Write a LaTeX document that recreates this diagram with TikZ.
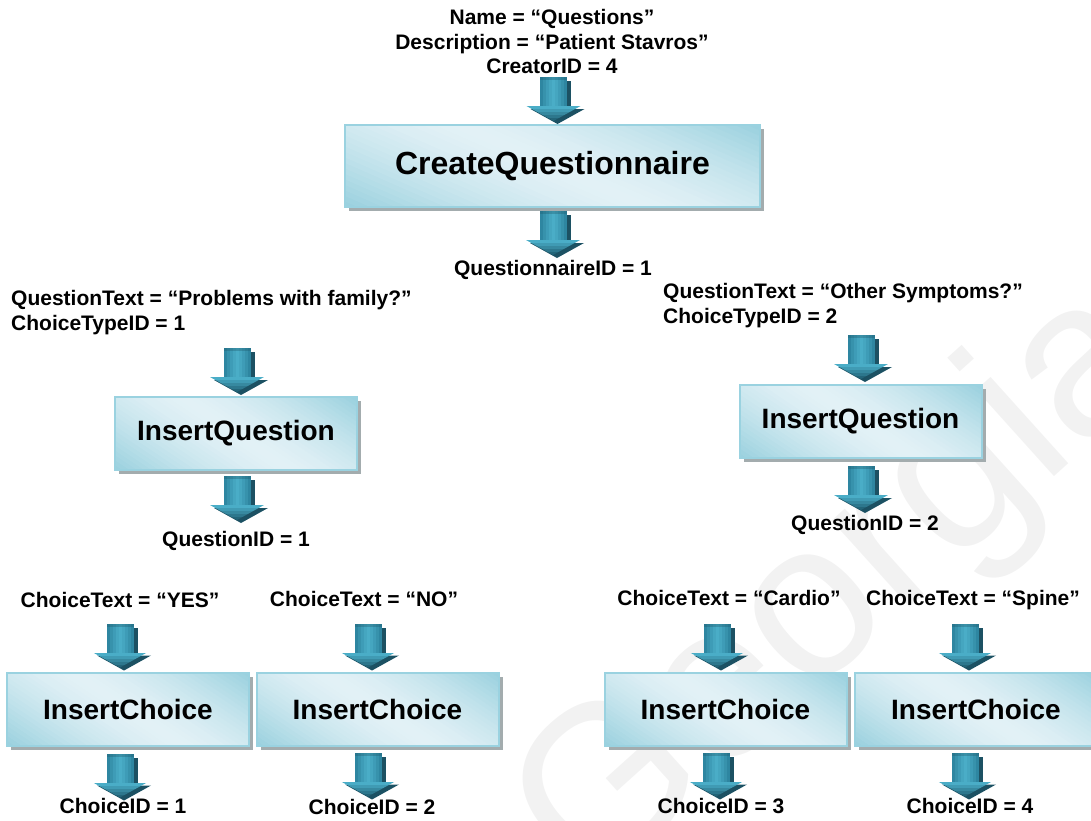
\documentclass[tikz,border=0pt]{standalone}
\usepackage{fontspec}
\setmainfont{Liberation Sans}
\usetikzlibrary{calc,shadows}

\definecolor{boxlight}{HTML}{E2F1F6}
\definecolor{boxdark}{HTML}{98D0DE}
\definecolor{boxedge}{HTML}{9AD2E0}
\definecolor{boxshadow}{HTML}{A3ACAE}
\definecolor{arrowmid}{HTML}{4AADC7}
\definecolor{arrowside}{HTML}{2A809B}
\definecolor{arrowtip}{HTML}{236579}
\definecolor{arrowshade}{HTML}{1C5163}
\definecolor{marklight}{HTML}{F2F2F2}

\tikzset{
  x=1pt, y=-1pt,
  lbl/.style={font=\bfseries\fontsize{21}{24.5}\selectfont, inner sep=0pt, anchor=base},
  % diagonal sheen inside a box, built from slanted strips
  sheen/.style={path picture={
    \foreach \i in {0,...,47}{
      \pgfmathsetmacro\fa{-0.45+\i*1.45/48}
      \pgfmathsetmacro\fb{\fa+1.45/48+0.004}
      \pgfmathtruncatemacro\pp{100*abs(((\i+0.5)/48)*2-1)^1.5}
      \fill[boxdark!\pp!boxlight]
        ($(path picture bounding box.north west)!\fa!(path picture bounding box.north east)$)
        -- ($(path picture bounding box.north west)!\fb!(path picture bounding box.north east)$)
        -- ($(path picture bounding box.south west)!{\fb+0.45}!(path picture bounding box.south east)$)
        -- ($(path picture bounding box.south west)!{\fa+0.45}!(path picture bounding box.south east)$)
        -- cycle;
    }
  }},
  procbox/.style={draw=boxedge, line width=2pt, outer sep=0pt, inner sep=0pt,
    fill=boxlight, sheen,
    drop shadow={shadow xshift=4pt, shadow yshift=-4pt, fill=boxshadow, opacity=1},
    minimum width=242pt, minimum height=73pt,
    font=\bfseries\fontsize{28}{28}\selectfont},
  % block arrow, origin at its tip, pointing down
  blockarrow/.pic={
    \fill[arrowshade] (13.5,-40) rectangle (17.5,-14);
    \fill[arrowshade] (-23,-12) -- (31,-12) -- (4,3) -- cycle;
    \fill[arrowside] (-13.5,-44) rectangle (13.5,-14);
    \foreach \k in {0,...,8}{
      \pgfmathtruncatemacro\pp{100*abs(((\k+0.5)/9)*2-1)^1.2}
      \fill[arrowside!\pp!arrowmid] ({-13.5+3*\k},-44) rectangle ({-13.5+3*\k+3},-14);
    }
    \fill[arrowside!70!black, opacity=0.35] (-13.5,-44) rectangle (13.5,-41);
    \begin{scope}
      \clip (-27,-15) -- (27,-15) -- (0,0) -- cycle;
      \foreach \k in {0,...,4}{
        \pgfmathtruncatemacro\pp{100*(\k/4)}
        \fill[arrowtip!\pp!arrowmid] (-28,{-15+3*\k}) rectangle (28,{-15+3*\k+3.3});
      }
    \end{scope}
  }
}

\begin{document}
\begin{tikzpicture}
\useasboundingbox (0,0) rectangle (1091,820);
\clip (0,0) rectangle (1091,820);

% faint watermark behind the chart
\node[rotate=42, anchor=base west, inner sep=0pt, text=marklight,
      font=\fontsize{220}{220}\selectfont] (mark) at (589,896) {Georgiadis};

% questionnaire
\node[lbl, align=center] (qin) at (552,73.5)
  {Name = “Questions”\\Description = “Patient Stavros”\\CreatorID = 4};
\node[procbox, minimum width=415pt, minimum height=82pt,
      font=\bfseries\fontsize{32}{32}\selectfont] (cq) at (552.5,166) {CreateQuestionnaire};
\pic at ($(cq.north)+(1,-4)$) {blockarrow};
\pic at ($(cq.south)+(0.5,48)$) {blockarrow};
\node[lbl] (qid) at (553,275) {QuestionnaireID = 1};

% first question
\node[lbl, align=left, anchor=base west] (q1in) at (11,330)
  {QuestionText = “Problems with family?”\\ChoiceTypeID = 1};
\node[procbox] (iq1) at (236,433.5) {InsertQuestion};
\pic at ($(iq1.north)+(1,-5)$) {blockarrow};
\pic at ($(iq1.south)+(1,50)$) {blockarrow};
\node[lbl] (q1id) at (236,546) {QuestionID = 1};

% second question
\node[lbl, align=left, anchor=base west] (q2in) at (663,323)
  {QuestionText = “Other Symptoms?”\\ChoiceTypeID = 2};
\node[procbox] (iq2) at (860.5,421.5) {InsertQuestion};
\pic at ($(iq2.north)+(0.5,-6)$) {blockarrow};
\pic at ($(iq2.south)+(0.5,52)$) {blockarrow};
\node[lbl] (q2id) at (865,530) {QuestionID = 2};

% choices
\node[lbl] (c1in) at (120,607) {ChoiceText = “YES”};
\node[procbox] (ic1) at (128,709) {InsertChoice};
\pic at ($(ic1.north)+(-8,-5)$) {blockarrow};
\pic at ($(ic1.south)+(-8,52)$) {blockarrow};
\node[lbl] (c1id) at (123,813) {ChoiceID = 1};

\node[lbl] (c2in) at (364,606) {ChoiceText = “NO”};
\node[procbox] (ic2) at (377.5,709) {InsertChoice};
\pic at ($(ic2.north)+(-9.5,-5)$) {blockarrow};
\pic at ($(ic2.south)+(-9.5,51)$) {blockarrow};
\node[lbl] (c2id) at (372,814) {ChoiceID = 2};

\node[lbl] (c3in) at (729,605) {ChoiceText = “Cardio”};
\node[procbox] (ic3) at (725.5,709) {InsertChoice};
\pic at ($(ic3.north)+(-8.5,-5)$) {blockarrow};
\pic at ($(ic3.south)+(-9.5,51)$) {blockarrow};
\node[lbl] (c3id) at (721,813) {ChoiceID = 3};

\node[lbl] (c4in) at (973,605) {ChoiceText = “Spine”};
\node[procbox] (ic4) at (976,709) {InsertChoice};
\pic at ($(ic4.north)+(-11,-5)$) {blockarrow};
\pic at ($(ic4.south)+(-11,51)$) {blockarrow};
\node[lbl] (c4id) at (970,813) {ChoiceID = 4};
\end{tikzpicture}
\end{document}
